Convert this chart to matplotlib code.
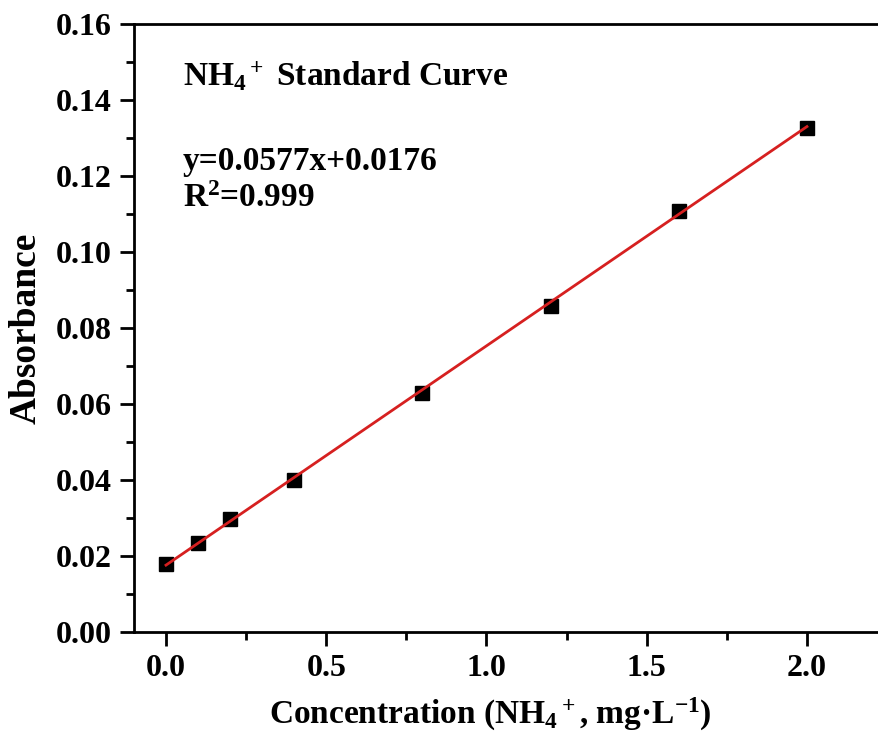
import numpy as np
import matplotlib
matplotlib.use('Agg')
import matplotlib.pyplot as plt
from matplotlib.ticker import MultipleLocator

# data
conc = [0.0, 0.1, 0.2, 0.4, 0.8, 1.2, 1.6, 2.0]
absorb = [0.0179, 0.0234, 0.0297, 0.0400, 0.0629, 0.0858, 0.1108, 0.1326]
slope = 0.0577
intercept = 0.0176
fit_x = [0.0, 2.0]

plt.rcParams['font.family'] = 'Liberation Serif'
plt.rcParams['font.weight'] = 'bold'
plt.rcParams['mathtext.fontset'] = 'custom'
plt.rcParams['mathtext.rm'] = 'Liberation Serif:bold'
plt.rcParams['mathtext.it'] = 'Liberation Serif:bold'
plt.rcParams['mathtext.bf'] = 'Liberation Serif:bold'

fig = plt.figure(figsize=(8.79, 7.36), dpi=100)
ax = fig.add_axes([0.1524, 0.1413, 0.875, 0.8261])

ax.plot(conc, absorb, 's', color='black', markersize=10, zorder=3)
fx = np.array(fit_x)
ax.plot(fx, slope * fx + intercept, color='#d62020', lw=2, zorder=4)

ax.set_xlim(-0.1, 2.3)
ax.set_ylim(0, 0.16)
ax.xaxis.set_major_locator(MultipleLocator(0.5))
ax.xaxis.set_minor_locator(MultipleLocator(0.25))
ax.yaxis.set_major_locator(MultipleLocator(0.02))
ax.yaxis.set_minor_locator(MultipleLocator(0.01))
ax.xaxis.set_major_formatter(matplotlib.ticker.FormatStrFormatter('%.1f'))
ax.yaxis.set_major_formatter(matplotlib.ticker.FormatStrFormatter('%.2f'))

for s in ax.spines.values():
    s.set_linewidth(2)
ax.tick_params(which='major', direction='out', length=10, width=2, labelsize=23, pad=6)
ax.tick_params(which='minor', direction='out', length=6, width=2)
ax.tick_params(top=False, right=False)

ax.set_xlabel('Concentration (NH$_4{}^+$, mg·L$^{-1}$)', fontsize=24, fontweight='bold')
ax.xaxis.set_label_coords(0.463, -0.105)
ax.set_ylabel('Absorbance', fontsize=27, fontweight='bold', labelpad=9)

ax.text(0.053, 0.1462, 'NH$_4{}^+$ Standard Curve', fontsize=24, fontweight='bold', va='center')
ax.text(0.053, 0.1238, 'y=0.0577x+0.0176', fontsize=24, fontweight='bold', va='center')
ax.text(0.053, 0.1140, 'R$^2$=0.999', fontsize=24, fontweight='bold', va='center')

fig.savefig('out.png', dpi=100)
